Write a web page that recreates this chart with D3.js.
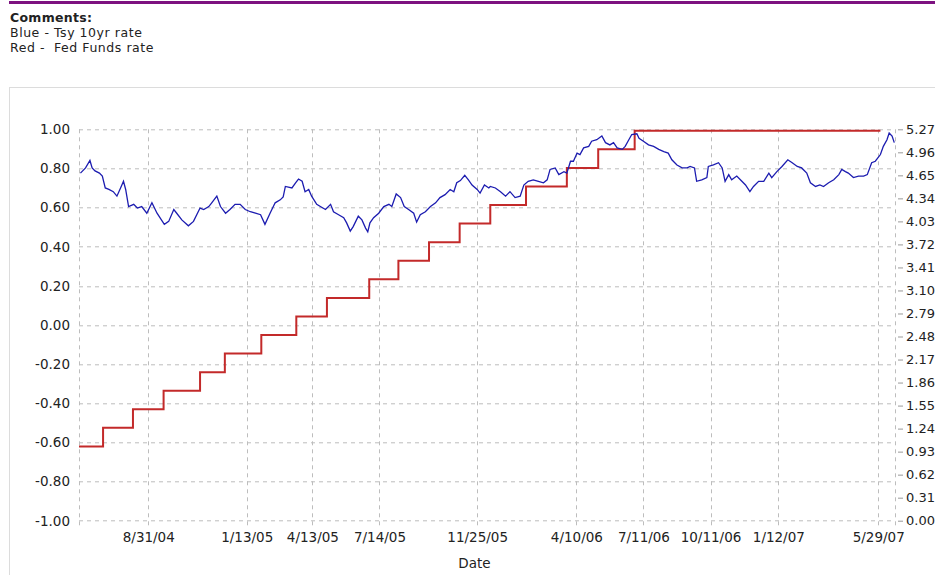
<!DOCTYPE html>
<html lang="en">

<head>
    <meta charset="utf-8" />
    <script src="https://cdnjs.cloudflare.com/ajax/libs/d3/7.8.5/d3.min.js"></script>
    <style type="text/css">
        body {
            margin: 0;
            background: #fff;
            overflow: hidden;
        }

        svg text {
            font-family: 'DejaVu Sans', Verdana, sans-serif;
            fill: #222;
        }

        .grid line {
            stroke: #bdbdbd;
            stroke-dasharray: 4, 4;
        }
    </style>
</head>

<body>
    <div class="svg-box"></div>
    <script type="text/javascript">
        // Tsy 10yr rate (blue)
        var tyDates = [
            "2004-05-30", "2004-06-06", "2004-06-12", "2004-06-15", "2004-06-19", "2004-06-25", "2004-06-29",
            "2004-07-03", "2004-07-08", "2004-07-14", "2004-07-19", "2004-07-24", "2004-07-28", "2004-07-31",
            "2004-08-04", "2004-08-11", "2004-08-16", "2004-08-22", "2004-08-29", "2004-09-05", "2004-09-12",
            "2004-09-16", "2004-09-22", "2004-09-28", "2004-10-05", "2004-10-09", "2004-10-16", "2004-10-25",
            "2004-11-01", "2004-11-10", "2004-11-15", "2004-11-22", "2004-11-26", "2004-12-03", "2004-12-08",
            "2004-12-15", "2004-12-21", "2004-12-28", "2005-01-04", "2005-01-11", "2005-01-18", "2005-01-25",
            "2005-02-01", "2005-02-07", "2005-02-14", "2005-02-21", "2005-02-28", "2005-03-04", "2005-03-07",
            "2005-03-16", "2005-03-21", "2005-03-25", "2005-03-30", "2005-04-03", "2005-04-08", "2005-04-12",
            "2005-04-19", "2005-04-24", "2005-05-01", "2005-05-08", "2005-05-12", "2005-05-19", "2005-05-26",
            "2005-05-30", "2005-06-04", "2005-06-08", "2005-06-15", "2005-06-20", "2005-06-25", "2005-06-28",
            "2005-07-01", "2005-07-06", "2005-07-13", "2005-07-20", "2005-07-27", "2005-07-31", "2005-08-06",
            "2005-08-12", "2005-08-17", "2005-08-23", "2005-08-30", "2005-09-03", "2005-09-08", "2005-09-15",
            "2005-09-22", "2005-09-29", "2005-10-05", "2005-10-12", "2005-10-19", "2005-10-24", "2005-10-28",
            "2005-11-02", "2005-11-08", "2005-11-13", "2005-11-18", "2005-11-25", "2005-11-29", "2005-12-05",
            "2005-12-11", "2005-12-13", "2005-12-20", "2005-12-27", "2006-01-03", "2006-01-09", "2006-01-16",
            "2006-01-23", "2006-01-28", "2006-02-03", "2006-02-10", "2006-02-17", "2006-02-24", "2006-03-01",
            "2006-03-05", "2006-03-12", "2006-03-17", "2006-03-24", "2006-03-28", "2006-04-02", "2006-04-06",
            "2006-04-11", "2006-04-15", "2006-04-20", "2006-04-27", "2006-05-01", "2006-05-08", "2006-05-15",
            "2006-05-20", "2006-05-26", "2006-05-31", "2006-06-05", "2006-06-12", "2006-06-16", "2006-06-21",
            "2006-06-25", "2006-07-02", "2006-07-05", "2006-07-11", "2006-07-18", "2006-07-25", "2006-08-01",
            "2006-08-08", "2006-08-14", "2006-08-19", "2006-08-26", "2006-09-02", "2006-09-09", "2006-09-13",
            "2006-09-19", "2006-09-22", "2006-09-29", "2006-10-06", "2006-10-08", "2006-10-15", "2006-10-22",
            "2006-10-27", "2006-10-31", "2006-11-05", "2006-11-09", "2006-11-16", "2006-11-23", "2006-11-28",
            "2006-12-04", "2006-12-09", "2006-12-16", "2006-12-23", "2006-12-30", "2007-01-03", "2007-01-10",
            "2007-01-17", "2007-01-25", "2007-01-31", "2007-02-07", "2007-02-13", "2007-02-20", "2007-02-25",
            "2007-03-04", "2007-03-10", "2007-03-15", "2007-03-22", "2007-03-29", "2007-04-05", "2007-04-09",
            "2007-04-14", "2007-04-18", "2007-04-25", "2007-05-02", "2007-05-09", "2007-05-14", "2007-05-20",
            "2007-05-25", "2007-06-01", "2007-06-05", "2007-06-10", "2007-06-13", "2007-06-17", "2007-06-20"
        ];
        var tyRates = [
            4.68, 4.75, 4.85, 4.75, 4.71, 4.68, 4.64,
            4.48, 4.46, 4.43, 4.37, 4.48, 4.57, 4.46,
            4.23, 4.26, 4.21, 4.23, 4.14, 4.28, 4.14,
            4.08, 3.99, 4.03, 4.19, 4.14, 4.05, 3.97,
            4.03, 4.21, 4.19, 4.23, 4.28, 4.37, 4.23,
            4.14, 4.19, 4.26, 4.26, 4.19, 4.16, 4.14,
            4.12, 3.99, 4.14, 4.28, 4.32, 4.36, 4.50,
            4.48, 4.55, 4.60, 4.57, 4.43, 4.46, 4.37,
            4.26, 4.23, 4.19, 4.26, 4.16, 4.12, 4.08,
            4.01, 3.90, 3.96, 4.10, 4.05, 3.94, 3.89,
            4.01, 4.08, 4.14, 4.23, 4.26, 4.23, 4.40,
            4.35, 4.23, 4.19, 4.14, 4.02, 4.12, 4.16,
            4.23, 4.28, 4.35, 4.39, 4.46, 4.43, 4.55,
            4.58, 4.65, 4.59, 4.52, 4.46, 4.41, 4.52,
            4.48, 4.50, 4.48, 4.43, 4.37, 4.43, 4.35,
            4.37, 4.52, 4.57, 4.59, 4.57, 4.55, 4.59,
            4.73, 4.75, 4.66, 4.70, 4.68, 4.84, 4.84,
            4.95, 4.93, 5.02, 5.04, 5.11, 5.13, 5.18,
            5.09, 5.06, 5.09, 5.02, 5.00, 5.04, 5.13,
            5.20, 5.21, 5.15, 5.11, 5.06, 5.04, 5.00,
            4.97, 4.95, 4.86, 4.79, 4.75, 4.75, 4.77,
            4.75, 4.57, 4.59, 4.62, 4.77, 4.79, 4.82,
            4.75, 4.57, 4.66, 4.59, 4.64, 4.57, 4.52,
            4.43, 4.50, 4.57, 4.57, 4.68, 4.62, 4.70,
            4.77, 4.86, 4.82, 4.77, 4.75, 4.68, 4.55,
            4.50, 4.52, 4.50, 4.55, 4.59, 4.66, 4.73,
            4.70, 4.68, 4.62, 4.64, 4.64, 4.66, 4.82,
            4.84, 4.93, 5.04, 5.13, 5.22, 5.18, 5.09
        ];

        // Fed Funds rate (red), steps
        var fedDates = [
            "2004-05-28", "2004-06-30", "2004-08-10", "2004-09-21", "2004-11-10", "2004-12-14",
            "2005-02-02", "2005-03-22", "2005-05-03", "2005-06-30", "2005-08-09", "2005-09-20",
            "2005-11-01", "2005-12-13", "2006-01-31", "2006-03-28", "2006-05-10", "2006-06-29", "2007-06-01"
        ];
        var fedRates = [1.00, 1.25, 1.50, 1.75, 2.00, 2.25, 2.50, 2.75, 3.00, 3.25, 3.50, 3.75,
            4.00, 4.25, 4.50, 4.75, 5.00, 5.25, 5.25];

        var dateTicks = ["2004-08-31", "2005-01-13", "2005-04-13", "2005-07-14", "2005-11-25",
            "2006-04-10", "2006-07-11", "2006-10-11", "2007-01-12", "2007-05-29"];
        var dateRange = ["2004-05-28", "2007-06-21"];
        var leftTicks = [1.0, 0.8, 0.6, 0.4, 0.2, 0.0, -0.2, -0.4, -0.6, -0.8, -1.0];
        var rightTicks = [0.00, 0.31, 0.62, 0.93, 1.24, 1.55, 1.86, 2.17, 2.48, 2.79, 3.10,
            3.41, 3.72, 4.03, 4.34, 4.65, 4.96, 5.27];

        var commentLines = ["Blue - Tsy 10yr rate", "Red -  Fed Funds rate"];

        let width = 935;
        let height = 575;
        let margins = { top: 129.3, left: 79, right: 40, bottom: 54.3 };
        let innerWidth = width - margins.left - margins.right;
        let innerHeight = height - margins.top - margins.bottom;

        var parse = d3.timeParse('%Y-%m-%d');
        var fmtTick = d3.timeFormat('%-m/%-d/%y');
        // plain hyphen for negatives, like the original
        var fmtNum = function (d) { return d3.format('.2f')(d).replace('\u2212', '-') };

        var svgRoot = d3.select('div.svg-box')
            .append('svg')
            .attr('width', width)
            .attr('height', height)
            .style('display', 'block');

        // header: purple rule, comments, outer frame
        svgRoot.append('line')
            .attr('x1', 9).attr('x2', width)
            .attr('y1', 2.5).attr('y2', 2.5)
            .attr('stroke', '#7d1280')
            .attr('stroke-width', 3);

        svgRoot.append('text')
            .attr('x', 10).attr('y', 21.5)
            .style('font-size', '12.5px')
            .style('font-weight', 'bold')
            .style('letter-spacing', '0.3px')
            .text('Comments:');

        svgRoot.selectAll('text.comment')
            .data(commentLines)
            .enter()
            .append('text')
            .attr('class', 'comment')
            .attr('x', 10)
            .attr('y', function (d, i) { return 37 + i * 14.6 })
            .style('font-size', '12.5px')
            .style('letter-spacing', '0.55px')
            .style('white-space', 'pre')
            .text(function (d) { return d });

        svgRoot.append('rect')
            .attr('x', 9.5).attr('y', 87.5)
            .attr('width', width - 9).attr('height', height - 87)
            .attr('fill', 'none')
            .attr('stroke', '#dcdcdc');

        var svg = svgRoot.append('g')
            .attr('transform', 'translate(' + margins.left + ',' + margins.top + ')');

        var x = d3.scaleTime()
            .domain(dateRange.map(parse))
            .range([0, innerWidth]);

        var yLeft = d3.scaleLinear()
            .domain([-1, 1])
            .range([innerHeight, 0]);

        var yRight = d3.scaleLinear()
            .domain([0, 5.27])
            .range([innerHeight, 0]);

        // dashed grid
        var grid = svg.append('g').attr('class', 'grid');
        grid.selectAll('line.h')
            .data(leftTicks)
            .enter()
            .append('line')
            .attr('class', 'h')
            .attr('x1', 0).attr('x2', innerWidth)
            .attr('y1', function (d) { return Math.round(yLeft(d)) + 0.5 })
            .attr('y2', function (d) { return Math.round(yLeft(d)) + 0.5 });

        var vLines = [parse(dateRange[0])].concat(dateTicks.map(parse), [parse(dateRange[1])]);
        grid.selectAll('line.v')
            .data(vLines)
            .enter()
            .append('line')
            .attr('class', 'v')
            .attr('y1', 0).attr('y2', innerHeight + 6)
            .attr('x1', function (d) { return Math.round(x(d)) + 0.5 })
            .attr('x2', function (d) { return Math.round(x(d)) + 0.5 });

        // axes
        svg.append('g')
            .attr('class', 'x-axis')
            .attr('transform', 'translate(0,' + innerHeight + ')')
            .call(d3.axisBottom(x).tickValues(dateTicks.map(parse)).tickFormat(fmtTick).tickSize(0).tickPadding(12))
            .call(function (g) { g.select('.domain').remove() })
            .selectAll('text')
            .style('font-size', '13.5px')
            .attr('fill', '#222');

        svg.append('g')
            .attr('class', 'y-axis')
            .call(d3.axisLeft(yLeft).tickValues(leftTicks).tickFormat(fmtNum).tickSize(0).tickPadding(9))
            .call(function (g) { g.select('.domain').remove() })
            .selectAll('text')
            .style('font-size', '13.5px')
            .attr('fill', '#222');

        var rightAxis = svg.append('g')
            .attr('class', 'y-axis-right')
            .attr('transform', 'translate(' + (innerWidth + 3) + ',0)')
            .call(d3.axisRight(yRight).tickValues(rightTicks).tickFormat(fmtNum).tickSize(5).tickPadding(3));
        rightAxis.select('.domain').remove();
        rightAxis.selectAll('line').attr('stroke', '#999');
        rightAxis.selectAll('text')
            .style('font-size', '13px')
            .attr('fill', '#222');

        svg.append('text')
            .attr('x', 395.5)
            .attr('y', innerHeight + 47)
            .attr('text-anchor', 'middle')
            .style('font-size', '13.5px')
            .text('Date');

        // series
        var fedData = fedDates.map(function (d, i) { return { date: parse(d), value: fedRates[i] } });
        var tyData = tyDates.map(function (d, i) { return { date: parse(d), value: tyRates[i] } });

        svg.append('path')
            .datum(fedData)
            .attr('fill', 'none')
            .attr('stroke', '#c32a2a')
            .attr('stroke-width', 2)
            .attr('d', d3.line()
                .curve(d3.curveStepAfter)
                .x(function (d) { return x(d.date) })
                .y(function (d) { return yRight(d.value) }));

        svg.append('path')
            .datum(tyData)
            .attr('fill', 'none')
            .attr('stroke', '#1c1cb0')
            .attr('stroke-width', 1.3)
            .attr('d', d3.line()
                .x(function (d) { return x(d.date) })
                .y(function (d) { return yRight(d.value) }));
    </script>
</body>

</html>
